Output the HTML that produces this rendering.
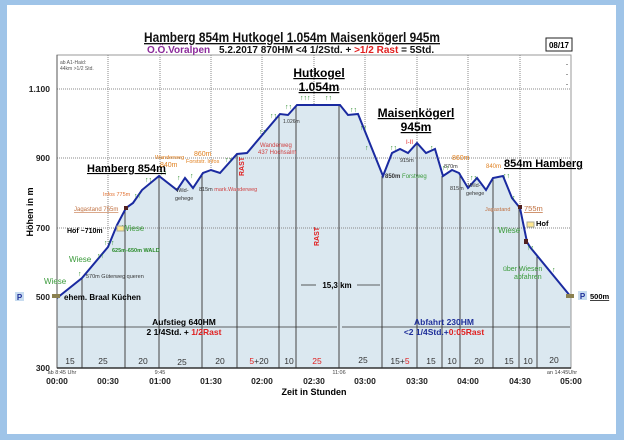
<!DOCTYPE html>
<html><head><meta charset="utf-8"><style>
html,body{margin:0;padding:0;width:624px;height:440px;overflow:hidden;background:#9fc4e8}
svg{display:block}
text{font-family:"Liberation Sans",sans-serif}
</style></head><body>
<svg width="624" height="440" viewBox="0 0 624 440">
<rect x="0" y="0" width="624" height="440" fill="#9fc4e8"/>
<rect x="7" y="5" width="609" height="429" fill="#fff"/>
<rect x="57" y="55" width="514" height="313" fill="#fff" stroke="#999" stroke-width="1"/>
<g stroke="#888" stroke-width="1" stroke-dasharray="1,1">
<line x1="57" y1="89" x2="571" y2="89"/>
<line x1="57" y1="158" x2="571" y2="158"/>
<line x1="57" y1="228" x2="571" y2="228"/>
<line x1="108" y1="55" x2="108" y2="368"/><line x1="160" y1="55" x2="160" y2="368"/>
<line x1="211" y1="55" x2="211" y2="368"/><line x1="262" y1="55" x2="262" y2="368"/>
<line x1="314" y1="55" x2="314" y2="368"/><line x1="365" y1="55" x2="365" y2="368"/>
<line x1="417" y1="55" x2="417" y2="368"/><line x1="468" y1="55" x2="468" y2="368"/>
<line x1="520" y1="55" x2="520" y2="368"/>
</g>
<polygon fill="#dbe8f0" points="57,368 57,298 82,278 108,247 117,225 126,208 133,203 142,190 159,176 177,190 185,178 193,188 203,173 211,170 220,173 237,154 247,153 280,114 288,115 297,105 340,105 348,115 358,114 383,176 392,153 400,149 408,153 417,143 426,153 435,149 443,176 452,170 459,173 468,188 477,178 486,190 493,178 503,176 512,198 520,208 527,242 530,247 571,297 571,368"/>
<line x1="57" y1="158" x2="571" y2="158" stroke="#888" stroke-dasharray="1,1"/>
<line x1="57" y1="228" x2="571" y2="228" stroke="#888" stroke-dasharray="1,1"/>
<g stroke="#444" stroke-width="1">
<line x1="82" y1="278" x2="82" y2="368"/><line x1="125" y1="210" x2="125" y2="368"/>
<line x1="159" y1="176" x2="159" y2="368"/><line x1="202" y1="173" x2="202" y2="368"/>
<line x1="237" y1="154" x2="237" y2="368"/><line x1="279" y1="114" x2="279" y2="368"/>
<line x1="296" y1="105" x2="296" y2="368"/><line x1="339" y1="105" x2="339" y2="368"/>
<line x1="382" y1="176" x2="382" y2="368"/><line x1="417" y1="143" x2="417" y2="368"/>
<line x1="442" y1="176" x2="442" y2="368"/><line x1="460" y1="173" x2="460" y2="368"/>
<line x1="493" y1="178" x2="493" y2="368"/><line x1="519" y1="205" x2="519" y2="368"/>
<line x1="537" y1="255" x2="537" y2="368"/>
</g>
<line x1="57" y1="55" x2="57" y2="368" stroke="#555"/>
<line x1="571" y1="55" x2="571" y2="368" stroke="#999"/>
<line x1="57" y1="368" x2="571" y2="368" stroke="#333" stroke-width="1.5"/>
<polyline fill="none" stroke="#1a2aa0" stroke-width="2" points="57,298 82,278 108,247 117,225 126,208 133,203 142,190 159,176 177,190 185,178 193,188 203,173 211,170 220,173 237,154 247,153 280,114 288,115 297,105 340,105 348,115 358,114 383,176 392,153 400,149 408,153 417,143 426,153 435,149 443,176 452,170 459,173 468,188 477,178 486,190 493,178 503,176 512,198 520,208 527,242 530,247 571,297"/>
<g fill="#2a8a2a" font-size="7" font-weight="bold">
<text x="78" y="276">↑</text><text x="97" y="258">↑↑</text><text x="104" y="245">↑↑↑</text>
<text x="134" y="198">↑↑</text><text x="145" y="182">↑↑</text><text x="160" y="175">↑↑</text>
<text x="177" y="180">↑</text><text x="190" y="178">↑</text><text x="225" y="162">↑↑</text>
<text x="259" y="134">↑↑</text><text x="270" y="118">↑↑</text><text x="285" y="109">↑↑</text>
<text x="300" y="100">↑↑↑</text><text x="325" y="100">↑↑</text><text x="350" y="112">↑↑</text>
<text x="360" y="130">↑↑</text><text x="365" y="150">↑</text><text x="390" y="150">↑↑</text>
<text x="430" y="150">↑</text><text x="442" y="170">↑↑</text><text x="470" y="180">↑↑</text>
<text x="503" y="178">↑↑</text><text x="512" y="200">↑</text><text x="527" y="250">↑↑</text>
<text x="552" y="272">↑</text>
</g>
<text x="144" y="42" font-size="13.5" font-weight="bold" textLength="296" lengthAdjust="spacingAndGlyphs" text-decoration="underline" fill="#111">Hamberg 854m  Hutkogel  1.054m  Maisenkögerl  945m</text>
<text x="147" y="53" font-size="10" font-weight="bold" fill="#8b2a9a">O.Ö.Voralpen</text>
<text x="219" y="53" font-size="10" font-weight="bold" fill="#111">5.2.2017   870HM   &lt;4 1/2Std. + <tspan fill="#e02020">&gt;1/2 Rast</tspan> =  5Std.</text>
<rect x="546" y="38" width="26" height="13" fill="#fff" stroke="#222"/>
<text x="559" y="48" font-size="8" font-weight="bold" text-anchor="middle">08/17</text>
<text x="60" y="64" font-size="5" fill="#555">ab A1-Haid:</text>
<text x="60" y="70" font-size="5" fill="#555">44km  &gt;1/2  Std.</text>
<text x="566" y="66" font-size="6">-</text><text x="566" y="76" font-size="6">-</text><text x="566" y="86" font-size="6">-</text>
<g font-size="8.5" font-weight="bold" text-anchor="end" fill="#222">
<text x="50" y="92">1.100</text><text x="50" y="161">900</text><text x="50" y="231">700</text><text x="50" y="300">500</text><text x="50" y="371">300</text>
</g>
<text transform="translate(33,212) rotate(-90)" font-size="9" font-weight="bold" text-anchor="middle">Höhen in m</text>
<g font-size="8.5" font-weight="bold" text-anchor="middle" fill="#222">
<text x="57" y="384">00:00</text><text x="108" y="384">00:30</text><text x="160" y="384">01:00</text>
<text x="211" y="384">01:30</text><text x="262" y="384">02:00</text><text x="314" y="384">02:30</text>
<text x="365" y="384">03:00</text><text x="417" y="384">03:30</text><text x="468" y="384">04:00</text>
<text x="520" y="384">04:30</text><text x="571" y="384">05:00</text>
</g>
<text x="314" y="395" font-size="9" font-weight="bold" text-anchor="middle">Zeit in  Stunden</text>
<g font-size="5.5" fill="#444" text-anchor="middle">
<text x="62" y="374">ab 8:45 Uhr</text><text x="160" y="374">9:45</text><text x="339" y="374">11:06</text><text x="562" y="374">an 14:45Uhr</text>
</g>
<g font-size="8.5" fill="#333" text-anchor="middle">
<text x="70" y="364">15</text><text x="103" y="364">25</text><text x="143" y="364">20</text>
<text x="182" y="365">25</text><text x="220" y="364">20</text>
<text x="259" y="364"><tspan fill="#e02020">5</tspan>+20</text><text x="289" y="364">10</text>
<text x="317" y="364" fill="#e02020">25</text><text x="363" y="363">25</text>
<text x="400" y="364">15+<tspan fill="#e02020">5</tspan></text><text x="431" y="364">15</text>
<text x="452" y="364">10</text><text x="479" y="364">20</text><text x="509" y="364">15</text>
<text x="528" y="364">10</text><text x="554" y="363">20</text>
</g>
<g stroke="#333" stroke-width="0.8">
<line x1="58" y1="327" x2="337" y2="327"/><line x1="342" y1="327" x2="570" y2="327"/>
<line x1="301" y1="285" x2="316" y2="285"/><line x1="357" y1="285" x2="380" y2="285"/>
</g>
<text x="184" y="325" font-size="8.5" font-weight="bold" text-anchor="middle">Aufstieg 640HM</text>
<text x="184" y="335" font-size="8.5" font-weight="bold" text-anchor="middle">2 1/4Std.  + <tspan fill="#e02020">1/2Rast</tspan></text>
<text x="444" y="325" font-size="8.5" font-weight="bold" text-anchor="middle" fill="#1f2f9a">Abfahrt 230HM</text>
<text x="444" y="335" font-size="8.5" font-weight="bold" text-anchor="middle" fill="#1f2f9a">&lt;2 1/4Std.+<tspan fill="#e02020">0:05Rast</tspan></text>
<text x="337" y="288" font-size="8" font-weight="bold" text-anchor="middle">15,3 km</text>
<text x="319" y="77" font-size="12" font-weight="bold" text-anchor="middle" text-decoration="underline">Hutkogel</text>
<text x="319" y="91" font-size="12" font-weight="bold" text-anchor="middle" text-decoration="underline">1.054m</text>
<text x="416" y="117" font-size="12" font-weight="bold" text-anchor="middle" text-decoration="underline">Maisenkögerl</text>
<text x="416" y="131" font-size="12" font-weight="bold" text-anchor="middle" text-decoration="underline">945m</text>
<text x="87" y="172" font-size="11" font-weight="bold" text-decoration="underline">Hamberg 854m</text>
<text x="504" y="167" font-size="11" font-weight="bold" text-decoration="underline">854m Hamberg</text>
<g font-size="6.5">
<text x="64" y="300" font-weight="bold" font-size="8">ehem. Braal Küchen</text>
<text x="86" y="278" fill="#333" font-size="5.5">570m Güterweg queren</text>
<text x="112" y="252" fill="#2a8a2a" font-size="5.5" font-weight="bold">625m-650m  WALD</text>
<text x="67" y="233" font-weight="bold" font-size="7">Hof ~710m</text>
<text x="122" y="231" fill="#3a9a3a" font-size="8">Wiese</text>
<text x="69" y="262" fill="#3a9a3a" font-size="8">Wiese</text>
<text x="44" y="284" fill="#3a9a3a" font-size="8">Wiese</text>
<text x="74" y="211" fill="#c07040" font-size="6" text-decoration="underline">Jagastand 755m</text>
<text x="103" y="196" fill="#e07030" font-size="5.5">Infos 775m</text>
<text x="155" y="159" fill="#e08020" font-size="5.5">Wanderweg</text>
<text x="160" y="167" fill="#e08020" font-size="7">840m</text>
<text x="194" y="156" fill="#e08020" font-size="7">860m</text>
<text x="186" y="163" fill="#e08020" font-size="5.5">Forststr. Infos</text>
<text x="176" y="192" fill="#333" font-size="5.5">Wild-</text><text x="175" y="200" fill="#333" font-size="5.5">gehege</text>
<text x="199" y="191" fill="#333" font-size="5.5">815m <tspan fill="#d04040">mark.Wanderweg</tspan></text>
<text x="260" y="147" fill="#d04040" font-size="6">Wanderweg</text>
<text x="258" y="154" fill="#d04040" font-size="6">437 Hochsalm</text>
<text x="283" y="123" fill="#333" font-size="5">1.026m</text>
<text x="385" y="178" fill="#333" font-size="6"><tspan font-weight="bold">850m</tspan> <tspan fill="#3a9a3a">Forstweg</tspan></text>
<text x="400" y="162" fill="#333" font-size="5.5">915m</text>
<text x="406" y="144" fill="#e02020" font-size="6">I-II</text>
<text x="452" y="160" fill="#e08020" font-size="7">860m</text>
<text x="444" y="168" fill="#333" font-size="5.5">870m</text>
<text x="450" y="190" fill="#333" font-size="5.5">815m</text>
<text x="468" y="187" fill="#333" font-size="5.5">Wild-</text><text x="466" y="195" fill="#333" font-size="5.5">gehege</text>
<text x="486" y="168" fill="#e08020" font-size="6">840m</text>
<text x="485" y="211" fill="#c07040" font-size="5.5">Jagastand</text>
<text x="524" y="211" fill="#c07040" font-size="7.5" text-decoration="underline">755m</text>
<text x="536" y="226" font-weight="bold" font-size="7.5">Hof</text>
<text x="498" y="233" fill="#3a9a3a" font-size="8">Wiese</text>
<text x="503" y="271" fill="#3a9a3a" font-size="7">über Wiesen</text>
<text x="514" y="279" fill="#3a9a3a" font-size="7">abfahren</text>
</g>
<text transform="translate(244,176) rotate(-90)" font-size="7" font-weight="bold" fill="#e02020">RAST</text>
<text transform="translate(319,246) rotate(-90)" font-size="7" font-weight="bold" fill="#e02020">RAST</text>
<rect x="15" y="292" width="9" height="9" fill="#c8dcf0"/><text x="19.5" y="300" font-size="8" font-weight="bold" text-anchor="middle" fill="#1f2f9a">P</text>
<rect x="578" y="291" width="9" height="9" fill="#c8dcf0"/><text x="582.5" y="299" font-size="8" font-weight="bold" text-anchor="middle" fill="#1f2f9a">P</text>
<text x="590" y="299" font-size="7.5" font-weight="bold" text-decoration="underline">500m</text>
<rect x="52" y="294" width="8" height="4" fill="#8a8050"/><rect x="566" y="294" width="8" height="4" fill="#8a8050"/>
<rect x="117" y="226" width="7" height="5" fill="#ffe890" stroke="#aa9"/><rect x="527" y="222" width="7" height="5" fill="#ffe890" stroke="#aa9"/>
<rect x="124" y="206" width="4" height="4" fill="#502020"/><rect x="518" y="205" width="4" height="4" fill="#502020"/>
<rect x="524" y="239" width="4" height="5" fill="#502020"/>
</svg>
</body></html>
